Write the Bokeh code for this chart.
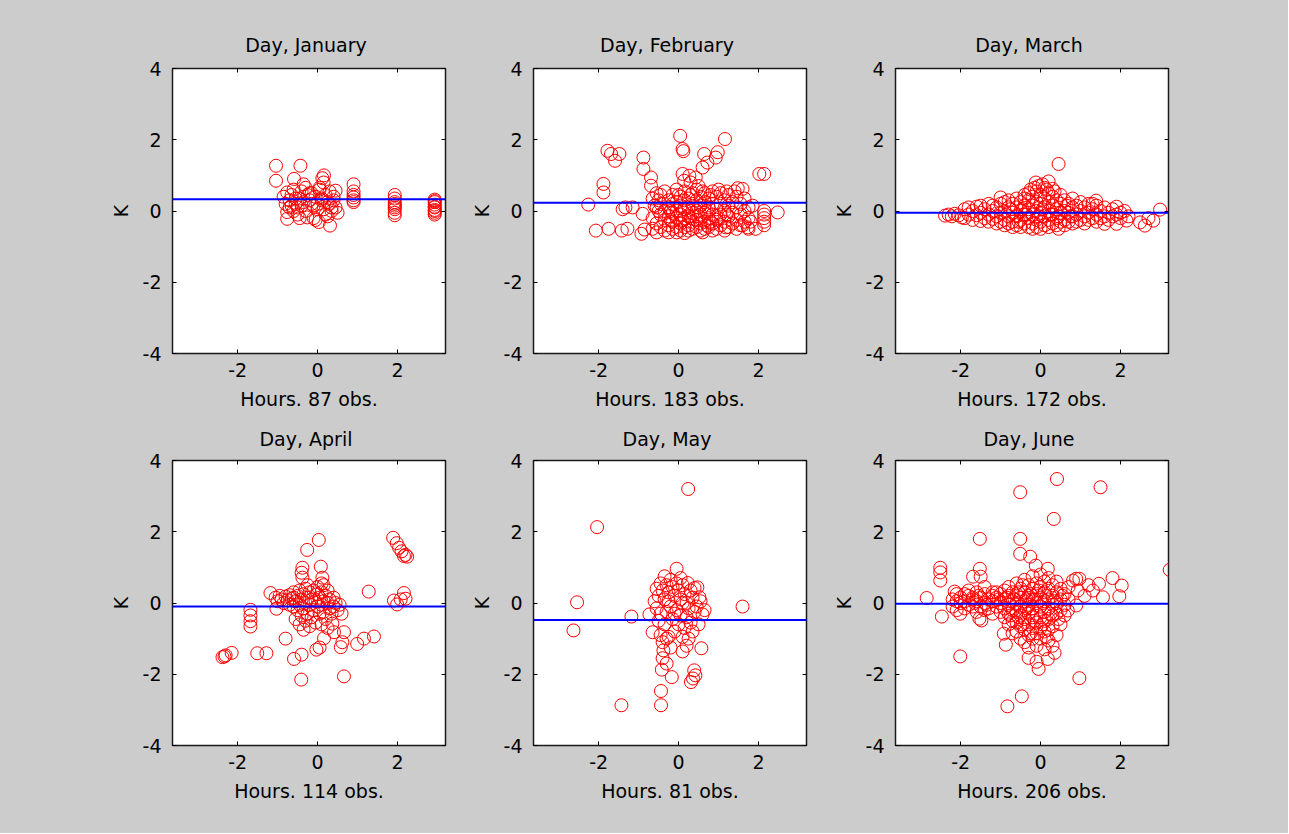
from bokeh.plotting import figure
from bokeh.layouts import column, row
from bokeh.models import Range1d, FixedTicker, LinearAxis, Slope
from bokeh.embed import file_html
from bokeh.resources import INLINE

# ---------------- data ----------------
months = ["January", "February", "March", "April", "May", "June"]
obs = [87, 183, 172, 114, 81, 206]
fit_intercept = [0.33, 0.23, -0.05, -0.10, -0.48, -0.02]
fit_slope = [0.0, 0.0, 0.0, 0.0, 0.0, 0.0]
x_ticks = [-2, 0, 2]
y_ticks = [-4, -2, 0, 2, 4]
x_limits = (-3.63, 3.2)
y_limits = (-4, 4)

jan = [(-1.04,1.27),(-1.04,0.85),(-0.43,1.27),(-0.59,0.90),(0.16,1.00),(0.12,0.92),
(-0.85,0.40),(-0.80,0.20),(-0.76,0.52),(-0.76,-0.03),(-0.76,-0.22),(-0.70,0.30),
(-0.65,0.45),(-0.60,0.60),(-0.55,0.20),(-0.50,0.10),(-0.45,0.35),(-0.40,0.55),
(-0.35,0.25),(-0.30,0.00),(-0.26,-0.18),(-0.20,0.30),(-0.15,0.50),(-0.10,0.15),
(-0.05,0.40),(0.00,0.20),(0.05,0.60),(0.10,0.35),(0.15,0.05),(0.20,0.45),
(0.25,0.25),(0.30,0.55),(0.35,0.10),(0.40,0.30),(0.45,0.57),(0.45,0.10),
(0.50,-0.05),(-0.60,0.00),(-0.50,-0.10),(-0.40,0.15),(-0.30,0.65),(-0.20,0.50),
(-0.10,-0.20),(0.00,0.05),(0.10,0.30),(0.20,-0.10),(0.30,0.20),(-0.70,0.10),
(-0.45,-0.20),(-0.25,0.45),(-0.05,-0.25),(0.15,0.80),(0.35,0.00),(0.03,-0.31),
(0.31,-0.41),(-0.55,0.35),(-0.35,0.75),(-0.15,0.20),(0.05,0.65),(0.25,-0.15),
(0.40,0.40),(-0.65,0.15),
(0.90,0.75),(0.90,0.55),(0.90,0.45),(0.90,0.38),(0.90,0.30),(0.90,0.25),
(1.93,0.45),(1.93,0.35),(1.93,0.25),(1.93,0.15),(1.93,0.05),(1.93,-0.05),(1.93,-0.12),(1.93,0.20),(1.93,0.10),
(2.93,0.32),(2.93,0.25),(2.93,0.18),(2.93,0.10),(2.93,0.03),(2.93,-0.05),(2.93,-0.10),(2.93,0.28),(2.93,0.12),(2.93,0.00)]

feb = [(0.04,2.11),(0.10,1.74),(0.12,1.68),(1.16,2.02),(0.98,1.65),(0.93,1.50),(0.64,1.60),(0.72,1.36),(0.60,1.22),
(-1.78,1.69),(-1.69,1.60),(-1.48,1.60),(-1.59,1.41),(-0.88,1.50),(-0.88,1.18),(-0.69,0.94),(-0.69,0.71),
(-1.88,0.76),(-1.88,0.52),(-2.26,0.18),(-2.07,-0.55),(-1.75,-0.50),(-1.42,-0.55),(-1.28,-0.50),
(-1.33,0.10),(-1.15,0.10),(-1.40,0.05),(-0.90,-0.08),(-0.93,-0.64),(-0.85,-0.52),
(0.10,1.04),(0.27,0.99),(0.43,0.94),(0.14,0.85),(0.30,0.80),(0.50,0.70),
(2.02,1.04),(2.14,1.04),(1.48,0.64),(1.60,0.62),(1.40,0.55),(1.85,0.15),
(2.14,0.00),(2.14,-0.10),(2.14,-0.20),(2.14,-0.30),(2.14,-0.40),(2.48,-0.04),
(0.72,-0.41),(1.18,-0.46),(1.73,-0.46),(1.93,-0.50),(1.60,-0.40),(1.80,-0.30),
(-0.65,0.35),(-0.65,-0.20),(-0.65,-0.50),
(-0.55,0.50),(-0.55,0.10),(-0.55,-0.35),(-0.55,-0.60),
(-0.45,0.20),(-0.45,-0.10),(-0.45,-0.45),(-0.45,0.45),
(-0.35,0.55),(-0.35,0.00),(-0.35,-0.25),(-0.35,-0.55),
(-0.25,0.30),(-0.25,0.10),(-0.25,-0.15),(-0.25,-0.40),(-0.25,-0.60),
(-0.15,0.45),(-0.15,0.20),(-0.15,-0.05),(-0.15,-0.30),(-0.15,-0.50),
(-0.05,0.60),(-0.05,0.25),(-0.05,0.00),(-0.05,-0.20),(-0.05,-0.45),(-0.05,-0.60),
(0.05,0.40),(0.05,0.15),(0.05,-0.10),(0.05,-0.35),(0.05,-0.55),
(0.15,0.55),(0.15,0.30),(0.15,0.05),(0.15,-0.20),(0.15,-0.45),(0.15,-0.62),
(0.25,0.35),(0.25,0.10),(0.25,-0.15),(0.25,-0.40),(0.25,-0.55),
(0.35,0.50),(0.35,0.20),(0.35,-0.05),(0.35,-0.30),(0.35,-0.50),
(0.45,0.60),(0.45,0.30),(0.45,0.00),(0.45,-0.25),(0.45,-0.45),
(0.55,0.40),(0.55,0.15),(0.55,-0.10),(0.55,-0.35),(0.55,-0.55),
(0.65,0.50),(0.65,0.25),(0.65,-0.05),(0.65,-0.30),(0.65,-0.50),
(0.75,0.35),(0.75,0.10),(0.75,-0.20),(0.75,-0.45),
(0.85,0.55),(0.85,0.20),(0.85,-0.10),(0.85,-0.35),(0.85,-0.55),
(0.95,0.40),(0.95,0.05),(0.95,-0.25),(0.95,-0.50),
(1.05,0.50),(1.05,0.20),(1.05,-0.10),(1.05,-0.40),
(1.15,0.30),(1.15,0.00),(1.15,-0.30),(1.15,-0.55),
(1.25,0.45),(1.25,0.15),(1.25,-0.15),(1.25,-0.45),
(1.35,0.25),(1.35,-0.05),(1.35,-0.35),
(1.45,0.40),(1.45,0.10),(1.45,-0.25),(1.45,-0.50),
(1.55,0.20),(1.55,-0.10),(1.55,-0.40),
(1.65,0.35),(1.65,0.00),(1.65,-0.30),
(1.75,0.10),(1.75,-0.20),(1.75,-0.50),
(-0.60,0.15),(0.00,0.45),(0.70,0.00),
(-0.50,0.00),(-0.50,0.30),(0.10,0.00),(0.10,-0.25),(0.30,0.45),(0.30,-0.20),
(0.50,-0.15),(0.50,0.10),(0.80,0.45),(0.80,-0.30),(1.00,0.60),(1.00,-0.20),
(1.20,-0.10),(1.20,0.55),(-0.20,0.00),(-0.20,-0.25),(0.60,0.55),(0.60,-0.60)]

mar = [(0.45,1.32),(0.20,0.83),(-0.12,0.80),(-0.05,0.70),(0.10,0.65),(0.35,0.55),(-1.00,0.38),(0.45,-0.50),
(2.99,0.04),(2.61,-0.41),(2.49,-0.32),(2.82,-0.27),(2.70,-0.20),(1.60,-0.36),(1.90,-0.36),(2.15,-0.27),
(1.39,0.29),(1.30,0.20),(-0.40,0.35),(-0.30,0.50),
(-2.39,-0.13),(-2.30,-0.10),(-2.22,-0.15),(-2.15,-0.08),(-2.05,-0.12),(-1.97,-0.18),
(-1.9,0.05),(-1.9,-0.2),(-1.8,-0.1),(-1.8,0.1),(-1.7,0.0),(-1.7,-0.25),(-1.6,0.12),(-1.6,-0.12),
(-1.5,-0.05),(-1.5,0.15),(-1.5,-0.28),(-1.4,0.05),(-1.4,-0.2),(-1.3,0.2),(-1.3,-0.1),(-1.3,-0.3),
(-1.2,0.0),(-1.2,-0.22),(-1.2,0.15),(-1.1,0.1),(-1.1,-0.15),(-1.1,-0.35),(-1.0,0.2),(-1.0,-0.05),(-1.0,-0.3),
(-0.9,0.25),(-0.9,0.0),(-0.9,-0.25),(-0.9,-0.4),(-0.8,0.1),(-0.8,-0.15),(-0.8,-0.35),(-0.8,0.3),
(-0.7,0.2),(-0.7,-0.05),(-0.7,-0.3),(-0.7,-0.45),(-0.6,0.35),(-0.6,0.1),(-0.6,-0.15),(-0.6,-0.4),
(-0.5,0.25),(-0.5,0.0),(-0.5,-0.25),(-0.5,-0.45),(-0.4,0.15),(-0.4,-0.1),(-0.4,-0.35),(-0.4,0.45),
(-0.3,0.3),(-0.3,0.05),(-0.3,-0.2),(-0.3,-0.45),(-0.2,0.4),(-0.2,0.15),(-0.2,-0.1),(-0.2,-0.35),(-0.2,-0.5),
(-0.1,0.55),(-0.1,0.25),(-0.1,0.0),(-0.1,-0.25),(-0.1,-0.45),(0.0,0.45),(0.0,0.2),(0.0,-0.05),(0.0,-0.3),(0.0,-0.5),
(0.1,0.35),(0.1,0.1),(0.1,-0.15),(0.1,-0.4),(0.2,0.5),(0.2,0.25),(0.2,0.0),(0.2,-0.25),(0.2,-0.45),
(0.3,0.4),(0.3,0.15),(0.3,-0.1),(0.3,-0.35),(0.4,0.3),(0.4,0.05),(0.4,-0.2),(0.4,-0.4),
(0.5,0.45),(0.5,0.2),(0.5,-0.05),(0.5,-0.3),(0.6,0.3),(0.6,0.0),(0.6,-0.25),(0.6,-0.4),
(0.7,0.2),(0.7,-0.05),(0.7,-0.3),(0.8,0.35),(0.8,0.1),(0.8,-0.15),(0.8,-0.35),
(0.9,0.15),(0.9,-0.1),(0.9,-0.3),(1.0,0.25),(1.0,0.0),(1.0,-0.25),(1.1,0.1),(1.1,-0.15),(1.1,-0.35),
(1.2,0.2),(1.2,-0.05),(1.2,-0.25),(1.3,0.05),(1.3,-0.2),(1.4,0.15),(1.4,-0.1),(1.4,-0.3),
(1.5,0.0),(1.5,-0.2),(1.6,0.1),(1.6,-0.15),(1.7,-0.05),(1.7,-0.25),(1.8,0.05),(1.8,-0.15),
(1.9,-0.1),(1.9,0.12),(2.0,-0.05),(2.0,-0.2),(2.1,0.0),(2.2,-0.15),
(-0.15,0.65),(0.05,0.75),(-0.25,0.6),(0.15,0.6),(0.3,0.62),(-0.05,-0.15),(0.05,0.05),(-0.35,-0.1),
(0.25,-0.1),(-0.45,0.05),(0.45,-0.15),(-0.55,-0.3),(0.65,0.15),(-0.75,0.05),(0.75,-0.15)]

apr = [(0.03,1.77),(-0.26,1.49),(-0.38,0.99),(0.08,1.02),(-0.38,0.71),(0.12,0.71),(-0.40,0.85),(0.10,0.55),
(-1.18,0.28),(1.28,0.32),
(1.89,1.83),(1.98,1.68),(2.04,1.55),(2.10,1.45),(2.16,1.32),(2.24,1.30),(2.20,1.35),
(1.91,0.07),(2.16,0.28),(2.20,0.12),(1.99,-0.04),(2.08,0.10),
(-1.68,-0.19),(-1.68,-0.35),(-1.68,-0.51),(-1.68,-0.66),
(-2.38,-1.52),(-2.30,-1.47),(-2.15,-1.40),(-2.33,-1.50),(-1.51,-1.41),(-1.28,-1.41),
(-0.80,-1.00),(-0.59,-1.57),(-0.40,-1.45),(-0.03,-1.31),(0.05,-1.25),(0.16,-0.99),
(0.58,-1.24),(0.66,-0.82),(0.99,-1.15),(1.16,-1.00),(1.41,-0.94),(0.62,-1.10),
(-0.41,-2.15),(0.66,-2.06),(-1.03,-0.16),(0.37,-0.58),(0.41,-0.82),(0.25,-0.70),
(-1.05,0.15),(-1.0,0.05),(-0.95,0.2),(-0.9,0.1),(-0.85,0.0),(-0.8,0.18),(-0.75,0.08),(-0.7,0.22),(-0.7,-0.05),
(-0.65,0.12),(-0.6,0.3),(-0.6,-0.1),(-0.55,0.05),(-0.5,0.2),(-0.5,-0.2),(-0.45,0.35),(-0.45,-0.05),(-0.4,0.1),
(-0.4,-0.35),(-0.35,0.25),(-0.35,-0.15),(-0.3,0.0),(-0.3,0.4),(-0.3,-0.5),(-0.25,0.15),(-0.25,-0.3),(-0.2,0.3),
(-0.2,-0.05),(-0.2,-0.65),(-0.15,0.1),(-0.15,-0.4),(-0.1,0.35),(-0.1,-0.2),(-0.05,0.05),(-0.05,-0.55),(0.0,0.25),
(0.0,-0.1),(0.0,0.45),(0.05,-0.3),(0.05,0.15),(0.1,0.3),(0.1,-0.05),(0.1,-0.6),(0.15,0.05),(0.15,-0.25),
(0.2,0.2),(0.2,-0.45),(0.25,0.0),(0.25,0.35),(0.3,-0.15),(0.3,0.1),(0.35,-0.3),(0.4,0.15),(0.4,-0.1),(0.45,0.0),
(0.5,-0.2),(0.55,-0.05),(-0.55,-0.45),(-0.45,-0.6),(-0.35,-0.75),(0.6,-0.3),(-0.25,0.5),(0.15,0.5),(-0.6,0.15)]

may = [(0.24,3.20),(-2.04,2.13),(-2.54,0.02),(-2.63,-0.77),(1.60,-0.10),(-1.18,-0.38),(-0.73,-0.32),(-0.05,0.96),
(-1.43,-2.87),(-0.44,-2.87),(-0.44,-2.47),(-0.42,-1.87),(-0.17,-2.08),(0.31,-2.22),(0.39,-1.89),(0.42,-2.03),(0.36,-2.12),
(0.57,-1.27),(0.10,-1.36),(-0.38,-1.33),(-0.65,-0.82),(-0.40,-1.55),(-0.30,-1.70),(0.20,-1.20),
(-0.55,0.40),(-0.50,0.20),(-0.45,0.55),(-0.40,0.35),(-0.35,0.10),(-0.30,0.50),(-0.25,0.30),(-0.20,0.65),(-0.15,0.45),(-0.10,0.20),
(-0.05,0.55),(0.00,0.35),(0.05,0.10),(0.10,0.50),(0.15,0.25),(0.20,0.00),(0.23,0.56),(0.30,0.35),(0.35,0.15),(0.40,0.42),
(0.47,0.44),(0.52,0.16),(0.60,-0.32),(0.65,-0.20),(0.45,-0.10),(-0.55,-0.15),(-0.50,-0.50),(-0.45,-0.30),(-0.35,-0.60),(-0.30,-0.25),
(-0.25,-0.95),(-0.20,-0.10),(-0.15,-0.45),(-0.10,-0.80),(-0.05,-0.20),(0.00,-0.60),(0.05,-0.35),(0.10,-0.95),(0.15,-0.70),(0.20,-0.40),
(0.25,-1.00),(0.30,-0.55),(0.35,-0.80),(0.40,-0.25),(0.50,-0.60),(-0.40,-1.10),(-0.30,-1.00),(-0.20,-1.25),(-0.35,0.75),(0.05,0.70),
(-0.25,0.05),(-0.60,0.05),(0.25,-0.15),(0.55,0.05),(-0.10,-0.30),(0.10,0.00),(-0.45,-0.90)]

jun = [(0.41,3.48),(1.50,3.25),(-0.51,3.11),(0.33,2.36),(-1.52,1.80),(-0.51,1.80),(-0.51,1.38),(-0.26,1.30),(3.23,0.93),
(-2.51,0.99),(-2.51,0.86),(-2.51,0.63),(-2.85,0.14),(-2.47,-0.38),(-2.01,-1.50),(-1.52,0.96),(-1.69,0.74),(-1.50,0.74),
(-1.53,-0.44),(-1.48,-0.49),(-2.15,0.32),(-2.01,-0.30),(0.97,-2.11),(-0.47,-2.62),(-0.83,-2.90),(-0.05,-1.85),
(-0.30,-1.54),(0.18,-1.57),(-0.87,-1.17),(-0.92,-0.86),(0.89,0.68),(0.97,0.68),(0.81,0.63),(1.46,0.54),(1.80,0.70),
(2.03,0.49),(1.97,0.19),(1.56,0.16),(1.31,0.35),(0.93,0.35),(0.89,-0.07),(0.68,-0.21),(-0.12,1.05),(0.18,0.96),
(-1.55,0.20),(-1.40,0.45),(-1.70,0.10),(-1.90,0.25),(-2.10,0.05),(-1.20,0.30),(1.10,0.20),(1.20,0.50),(0.35,-1.40),(-0.10,-1.65),
(-2.2,0.1),(-2.2,-0.1),(-2.1,0.25),(-2.1,-0.2),(-2.0,0.0),(-2.0,0.15),(-1.9,-0.15),(-1.9,0.05),
(-1.8,0.2),(-1.8,-0.05),(-1.8,0.35),(-1.7,-0.1),(-1.7,0.15),(-1.6,0.05),(-1.6,-0.25),(-1.6,0.3),
(-1.5,0.15),(-1.5,-0.1),(-1.4,0.0),(-1.4,0.25),(-1.4,-0.2),(-1.3,0.1),(-1.3,-0.15),
(-1.2,0.05),(-1.2,-0.3),(-1.2,0.2),(-1.1,0.15),(-1.1,-0.1),(-1.1,0.3),(-1.0,0.0),(-1.0,0.25),(-1.0,-0.25),
(-0.9,0.1),(-0.9,-0.4),(-0.9,0.35),(-0.9,-0.15),
(-0.8,0.45),(-0.8,0.2),(-0.8,-0.05),(-0.8,-0.3),(-0.8,-0.6),
(-0.7,0.3),(-0.7,0.05),(-0.7,-0.2),(-0.7,-0.5),(-0.7,-0.85),
(-0.6,0.55),(-0.6,0.25),(-0.6,0.0),(-0.6,-0.25),(-0.6,-0.55),(-0.6,-0.8),
(-0.5,0.4),(-0.5,0.15),(-0.5,-0.1),(-0.5,-0.35),(-0.5,-0.65),(-0.5,-1.0),
(-0.4,0.65),(-0.4,0.3),(-0.4,0.05),(-0.4,-0.2),(-0.4,-0.45),(-0.4,-0.75),(-0.4,-1.1),
(-0.3,0.5),(-0.3,0.2),(-0.3,-0.05),(-0.3,-0.3),(-0.3,-0.6),(-0.3,-0.9),(-0.3,-1.25),
(-0.2,0.75),(-0.2,0.4),(-0.2,0.1),(-0.2,-0.15),(-0.2,-0.4),(-0.2,-0.7),(-0.2,-1.0),
(-0.1,0.55),(-0.1,0.25),(-0.1,0.0),(-0.1,-0.3),(-0.1,-0.55),(-0.1,-0.85),(-0.1,-1.2),
(0.0,0.8),(0.0,0.45),(0.0,0.15),(0.0,-0.1),(0.0,-0.4),(0.0,-0.7),(0.0,-1.0),
(0.1,0.6),(0.1,0.3),(0.1,0.05),(0.1,-0.25),(0.1,-0.5),(0.1,-0.8),(0.1,-1.3),
(0.2,0.7),(0.2,0.4),(0.2,0.1),(0.2,-0.15),(0.2,-0.45),(0.2,-0.75),(0.2,-1.05),
(0.3,0.5),(0.3,0.2),(0.3,-0.05),(0.3,-0.35),(0.3,-0.65),(0.3,-1.2),
(0.4,0.6),(0.4,0.3),(0.4,0.0),(0.4,-0.3),(0.4,-0.9),
(0.5,0.4),(0.5,0.1),(0.5,-0.2),(0.5,-0.6),(0.6,0.25),(0.6,-0.05),(0.6,-0.35),(0.7,0.1),(0.7,0.45),
(-0.65,0.1),(-0.55,-0.4),(-0.45,0.5),(-0.35,-0.15),(-0.25,0.25),(-0.15,-0.5),(-0.05,0.35),(0.05,-0.6),(0.15,0.2),(0.25,-0.3),
(-0.75,-0.35),(-0.35,0.1),(0.05,0.0),(-0.15,0.1),(0.35,0.05),(-0.45,-0.6),(-0.25,-0.85),(0.15,-0.95),(-0.55,0.3),(0.45,-0.45),
(-0.85,0.15),(-1.05,0.1),(-1.35,-0.05),(-1.65,0.0),(0.55,0.2)]

series = [jan, feb, mar, apr, may, jun]

# ---------------- layout ----------------
FONT = "DejaVu Sans"
FS = "19px"
GRAY = "#cccccc"
col_w = [465, 362, 461]
col_bl = [172, 68, 68]
col_br = [20, 21, 120]
row_h = [416, 417]
row_bt = [68, 44]
row_bb = [63, 88]
row_title_standoff = [22, 18]


def hyphen_labels(ticks):
    return {t: str(t) for t in ticks}


figs = []
for i, (m, pts) in enumerate(zip(months, series)):
    r, c = divmod(i, 3)
    p = figure(width=col_w[c], height=row_h[r], output_backend="svg",
               toolbar_location=None, tools="",
               x_range=Range1d(*x_limits), y_range=Range1d(*y_limits),
               min_border_left=col_bl[c], min_border_right=col_br[c],
               min_border_top=row_bt[r], min_border_bottom=row_bb[r])
    p.border_fill_color = GRAY
    p.background_fill_color = "white"
    p.outline_line_color = "#1a1a1a"
    p.outline_line_width = 1.5
    p.xgrid.grid_line_color = None
    p.ygrid.grid_line_color = None

    p.title.text = f"Day,  {m}"
    p.title.align = "center"
    p.title.vertical_align = "top"
    p.title.text_font = FONT
    p.title.text_font_size = FS
    p.title.text_font_style = "normal"
    p.title.text_color = "black"
    p.title.standoff = row_title_standoff[r]

    for ax, ticks in ((p.xaxis, x_ticks), (p.yaxis, y_ticks)):
        ax.ticker = FixedTicker(ticks=ticks)
        ax.major_label_overrides = hyphen_labels(ticks)
        ax.axis_line_color = None
        ax.major_tick_in = 4
        ax.major_tick_out = 0
        ax.major_tick_line_color = "black"
        ax.minor_tick_line_color = None
        ax.major_label_text_font = FONT
        ax.major_label_text_font_size = FS
        ax.major_label_text_color = "black"
        ax.axis_label_text_font = FONT
        ax.axis_label_text_font_size = FS
        ax.axis_label_text_font_style = "normal"
        ax.axis_label_text_color = "black"
    p.xaxis.axis_label = f"Hours. {obs[i]} obs."
    p.xaxis.major_label_standoff = 9
    p.xaxis.axis_label_standoff = 8
    p.yaxis.axis_label = "K"
    p.yaxis.major_label_standoff = 11
    p.yaxis.axis_label_standoff = 8

    for side, ticks in (("right", y_ticks), ("above", x_ticks)):
        ax2 = LinearAxis(ticker=FixedTicker(ticks=ticks),
                         major_label_overrides={t: "" for t in ticks},
                         major_label_standoff=0, major_tick_in=4, major_tick_out=0,
                         major_tick_line_color="black",
                         axis_line_color=None, minor_tick_line_color=None,
                         major_label_text_font_size="1px")
        p.add_layout(ax2, side)

    xs = [q[0] for q in pts]
    ys = [q[1] for q in pts]
    p.scatter(xs, ys, marker="circle", size=13, fill_color=None,
              line_color="#ff0000", line_width=1)
    p.add_layout(Slope(gradient=fit_slope[i], y_intercept=fit_intercept[i],
                       line_color="#0000ff", line_width=2))
    figs.append(p)

bg = {"background-color": GRAY}
layout = column(row(*figs[:3], spacing=0, styles=bg),
                row(*figs[3:], spacing=0, styles=bg),
                spacing=0, styles=bg)
open("out.html", "w").write(file_html(layout, INLINE))
